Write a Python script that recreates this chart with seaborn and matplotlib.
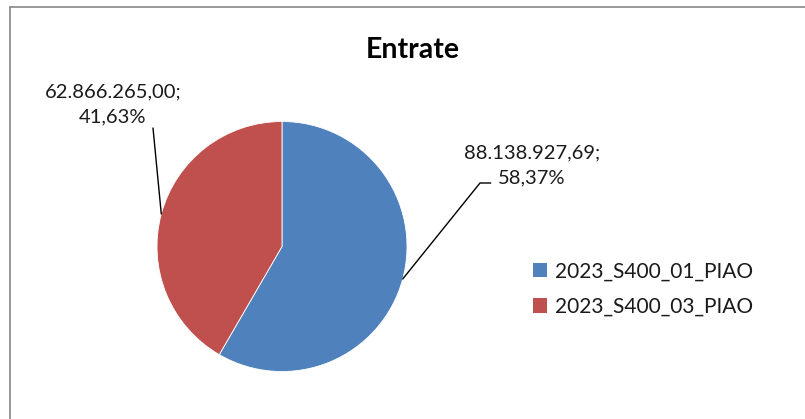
import numpy as np
import matplotlib
matplotlib.use("Agg")
import matplotlib.pyplot as plt
import seaborn as sns
from matplotlib.patches import Patch
from matplotlib.lines import Line2D

# Data
categories = ["2023_S400_01_PIAO", "2023_S400_03_PIAO"]
values = [88138927.69, 62866265.00]
value_labels = ["88.138.927,69;", "62.866.265,00;"]
title = "Entrate"

colors = ["#4F81BD", "#C0504D"]

sns.set_theme(style="white")
plt.rcParams['font.family'] = ['Lato', 'DejaVu Sans']

W, H = 805, 419
fig = plt.figure(figsize=(W / 100, H / 100), dpi=100)

# pie axes: center (282, 246.5) px, radius 125 px
cx, cy, r = 282, 246.5, 125
ax = fig.add_axes([(cx - r) / W, (H - cy - r) / H, 2 * r / W, 2 * r / H])
wedges, _ = ax.pie(values, colors=colors, startangle=90, counterclock=False,
                   radius=1, wedgeprops=dict(edgecolor="white", linewidth=0.6))
ax.set_xlim(-1, 1)
ax.set_ylim(-1, 1)
ax.set_aspect("equal")
ax.axis("off")

# data labels with leader lines
total = sum(values)
pcts = [v / total * 100 for v in values]
label_text = [f"{lab}\n{('%.2f' % p).replace('.', ',')}%" for lab, p in zip(value_labels, pcts)]

# layout of label positions (data units of the pie axes)
leader_pts = [[(1.584, 0.508), (1.67, 0.508)], [(-1.032, 0.948)]]
text_pos = [(2.0, 0.648), (-1.352, 1.136)]

for w, pts, tp, txt in zip(wedges, leader_pts, text_pos, label_text):
    ang = np.deg2rad((w.theta1 + w.theta2) / 2)
    ex, ey = np.cos(ang), np.sin(ang)
    xs = [ex] + [p[0] for p in pts]
    ys = [ey] + [p[1] for p in pts]
    ax.plot(xs, ys, color="black", lw=1.0, clip_on=False)
    ax.text(tp[0], tp[1], txt, ha="center", va="center", fontsize=14.5,
            color="#1a1a1a", linespacing=1.55, clip_on=False)

# title
fig.text(413 / W, 1 - 50 / H, title, ha="center", va="center",
         fontsize=20.5, fontweight="bold", color="black")

# legend
handles = [Patch(facecolor=c, edgecolor="none") for c in colors]
fig.legend(handles, categories, loc="center left",
           bbox_to_anchor=(514 / W, 1 - 289 / H), frameon=False,
           fontsize=15, handlelength=0.7, handleheight=0.7,
           handletextpad=0.35, labelspacing=0.75, labelcolor="#1a1a1a")

# chart frame (left and top edges visible)
fig.add_artist(Line2D([10 / W, 10 / W], [-0.1, 1 - 7 / H], transform=fig.transFigure,
                      color="#888888", lw=1.2))
fig.add_artist(Line2D([10 / W, 1.1], [1 - 7 / H, 1 - 7 / H], transform=fig.transFigure,
                      color="#888888", lw=1.2))

fig.savefig("out.png", dpi=100, facecolor="white")
